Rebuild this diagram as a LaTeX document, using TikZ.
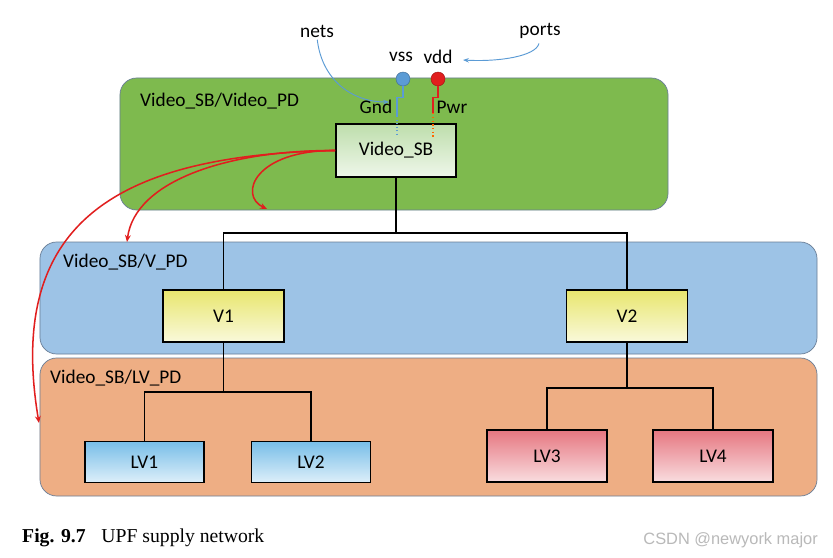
\documentclass[tikz,border=0pt]{standalone}
\usepackage{fontspec}
\setmainfont{Carlito}
\newfontfamily\capfont{Liberation Serif}
\newfontfamily\markfont{Liberation Sans}
\usetikzlibrary{arrows.meta}

\definecolor{pdgreen}{RGB}{126,186,78}
\definecolor{pdblue}{RGB}{157,195,230}
\definecolor{pdorange}{RGB}{238,174,132}
\definecolor{pdline}{RGB}{105,125,150}
\definecolor{sbgreen}{RGB}{190,222,172}
\definecolor{vyellow}{RGB}{232,230,110}
\definecolor{lvblue}{RGB}{120,190,232}
\definecolor{lvred}{RGB}{230,118,128}
\definecolor{netblue}{RGB}{91,155,213}
\definecolor{wirered}{RGB}{225,30,30}

\begin{document}
\begin{tikzpicture}[x=0.03cm, y=-0.03cm,
    region/.style={draw=pdline, line width=0.6pt, rounded corners=0.5cm},
    blk/.style={draw=black, line width=1.4pt, minimum width=3.6cm, font=\fontsize{16.5}{19}\selectfont},
    tree/.style={draw=black, line width=1.4pt},
    lbl/.style={font=\fontsize{16.5}{19}\selectfont, inner sep=0pt},
    note/.style={draw=netblue, line width=0.8pt, -{Stealth[length=5pt]}},
    ctrl/.style={draw=wirered, line width=1.3pt, -{Stealth[length=6pt, width=5pt]}}
]
    \useasboundingbox[fill=white] (0,0) rectangle (833,558);

    % Power domains
    \node[region, fill=pdgreen, minimum width=16.44cm, minimum height=3.96cm] (vidpd) at (394,144) {};
    \node[region, fill=pdblue, minimum width=23.31cm, minimum height=3.36cm] (vpd) at (428.5,298) {};
    \node[region, fill=pdorange, minimum width=23.31cm, minimum height=4.14cm] (lvpd) at (428.5,427) {};
    \node[lbl, anchor=west] (vidpdlbl) at (140,101) {Video\_SB/Video\_PD};
    \node[lbl, anchor=west] (vpdlbl) at (63,262) {Video\_SB/V\_PD};
    \node[lbl, anchor=west] (lvpdlbl) at (50,378) {Video\_SB/LV\_PD};

    % Blocks
    \node[blk, top color=sbgreen, bottom color=sbgreen!25, minimum height=1.59cm] (sb) at (396,150.5) {Video\_SB};
    \foreach \n/\x in {1/223.5, 2/627} {
        \node[blk, top color=vyellow, bottom color=vyellow!25, minimum width=3.63cm, minimum height=1.56cm] (v\n) at (\x,316) {V\n};
    }
    \foreach \n/\x in {1/144.5, 2/311} {
        \node[blk, top color=lvblue, bottom color=lvblue!25, minimum width=3.57cm, minimum height=1.23cm] (lv\n) at (\x,462) {LV\n};
    }
    \foreach \n/\x in {3/547, 4/713} {
        \node[blk, top color=lvred, bottom color=lvred!25, minimum height=1.56cm] (lv\n) at (\x,456) {LV\n};
    }

    % Hierarchy
    \coordinate (bus1) at (396,233);
    \coordinate (bus2) at (223.5,392);
    \coordinate (bus3) at (627,388);
    \draw[tree] (sb.south) -- (bus1);
    \draw[tree] (v1.north) |- (bus1) -| (v2.north);
    \draw[tree] (v1.south) -- (bus2);
    \draw[tree] (lv1.north) |- (bus2) -| (lv2.north);
    \draw[tree] (v2.south) -- (bus3);
    \draw[tree] (lv3.north) |- (bus3) -| (lv4.north);

    % Supply ports and nets
    \node[circle, fill=netblue, draw=netblue!70!black, line width=0.4pt, minimum size=0.42cm, inner sep=0pt] (vss) at (403,79) {};
    \node[circle, fill=wirered, draw=wirered!70!black, line width=0.4pt, minimum size=0.42cm, inner sep=0pt] (vdd) at (438,79) {};
    \node[lbl] (vsslbl) at (401,57) {vss};
    \node[lbl] (vddlbl) at (438,57) {vdd};
    \node[lbl] (gnd) at (376,107) {Gnd};
    \node[lbl] (pwr) at (452,107) {Pwr};
    \node[lbl] (nets) at (317,31) {nets};
    \node[lbl] (ports) at (540,31) {ports};

    \coordinate (gndmid) at (397,116);
    \coordinate (gndin) at (397,137);
    \coordinate (pwrmid) at (433,113);
    \coordinate (pwrin) at (433,137);
    \draw[netblue, line width=1pt] (vss.south) -- ++(0,11) -| (gndmid);
    \draw[netblue, line width=1pt, dotted] (gndmid) -- (gndin);
    \draw[wirered, line width=1.2pt] (vdd.south) -- ++(0,11) -| (pwrmid);
    \draw[orange!80!red, line width=1.2pt, dotted] (pwrmid) -- (pwrin);

    % Annotations
    \coordinate (netend) at (389,102);
    \coordinate (portend) at (463,60);
    \draw[note, shorten <=2pt] (nets.south) .. controls (322,80) and (352,102) .. (netend);
    \draw[note, shorten <=4pt] (ports.south) .. controls (536,56) and (500,62) .. (portend);

    % Domain arrows
    \coordinate (tgt1) at (267,209);
    \coordinate (tgt2) at (127,242);
    \coordinate (tgt3) at (39,423);
    \draw[ctrl] (sb.west) .. controls (255,150) and (238,195) .. (tgt1);
    \draw[ctrl] (sb.west) .. controls (230,150) and (135,180) .. (tgt2);
    \draw[ctrl] (sb.west) .. controls (120,155) and (5,220) .. (tgt3);

    % Caption
    \node[anchor=west, inner sep=0pt, font=\capfont\fontsize{16.8}{19}\selectfont] (caption) at (22,538) {\textbf{Fig. 9.7}\hspace{0.8em}UPF supply network};
    \node[anchor=east, inner sep=0pt, text=gray!55, font=\markfont\fontsize{14}{16}\selectfont] (mark) at (818,540) {CSDN @newyork major};
\end{tikzpicture}
\end{document}
